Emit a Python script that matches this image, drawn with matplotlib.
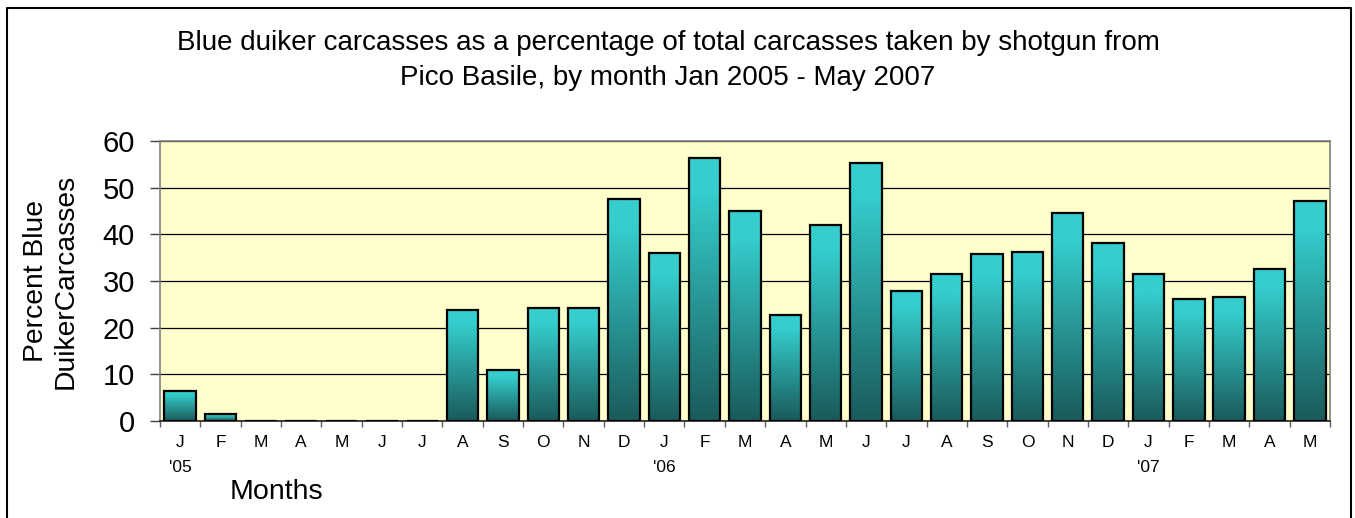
import numpy as np
import matplotlib
matplotlib.use("Agg")
import matplotlib.pyplot as plt
from matplotlib.colors import to_rgb
from matplotlib.lines import Line2D

plt.rcParams['font.family'] = ['Liberation Sans', 'DejaVu Sans']

# data: Jan 2005 - May 2007
months = ['J', 'F', 'M', 'A', 'M', 'J', 'J', 'A', 'S', 'O', 'N', 'D',
          'J', 'F', 'M', 'A', 'M', 'J', 'J', 'A', 'S', 'O', 'N', 'D',
          'J', 'F', 'M', 'A', 'M']
years = {0: "'05", 12: "'06", 24: "'07"}
percent = [6.5, 1.5, 0, 0, 0, 0, 0, 23.8, 10.9, 24.2, 24.2, 47.5,
           36.0, 56.4, 44.9, 22.8, 42.1, 55.3, 27.9, 31.6, 35.7, 36.3, 44.5, 38.1,
           31.6, 26.2, 26.5, 32.6, 47.2]

W, H = 1355, 518
fig = plt.figure(figsize=(W / 100, H / 100), dpi=100)
ax = fig.add_axes([160 / W, 1 - 421 / H, (1330 - 160) / W, (421 - 141) / H])
ax.set_facecolor('#FFFFCC')

x = np.arange(len(percent))
bw = 0.78

# vertical gradient for each bar, light on top, dark at the bottom
top = np.array(to_rgb('#35CDCD'))
bot = np.array(to_rgb('#1A5A5A'))
t = np.linspace(0, 1, 256)
t = np.clip(t * 1.15, 0, 1)
grad = (bot[None, :] * (1 - t[:, None]) + top[None, :] * t[:, None])[:, None, :]
for xi, v in zip(x, percent):
    if v > 0:
        ax.imshow(grad, extent=[xi - bw / 2, xi + bw / 2, 0, v], origin='lower',
                  aspect='auto', zorder=2, interpolation='bilinear')
ax.bar(x, percent, width=bw, fill=False, edgecolor='black', linewidth=1.6, zorder=3)

ax.set_xlim(-0.5, len(percent) - 0.5)
ax.set_ylim(0, 60)
ax.set_yticks(range(0, 61, 10))
ax.yaxis.grid(True, color='black', linewidth=0.9, zorder=1)
ax.set_axisbelow(True)

ax.set_xticks(np.arange(-0.5, len(percent), 1))
ax.set_xticklabels([])
ax.set_xticks(x, minor=True)
ax.set_xticklabels(months, minor=True, fontsize=12.5)
ax.tick_params(axis='x', which='major', length=4.5, width=1, color='#606060', direction='out')
ax.tick_params(axis='x', which='minor', length=0, pad=10)
ax.tick_params(axis='y', length=7, width=1, color='#404040', labelsize=21, pad=11)

for i, lab in years.items():
    ax.text(i, -0.165, lab, transform=ax.get_xaxis_transform(), ha='center',
            va='center', fontsize=12.5)

for s in ['top', 'right', 'left']:
    ax.spines[s].set_color('#808080')
    ax.spines[s].set_linewidth(1.2)
ax.spines['bottom'].set_color('#202020')
ax.spines['bottom'].set_linewidth(1.2)

fig.text(668 / W, 1 - 60.5 / H,
         'Blue duiker carcasses as a percentage of total carcasses taken by shotgun from\n'
         'Pico Basile, by month Jan 2005 - May 2007',
         ha='center', va='center', fontsize=20, linespacing=1.45)
fig.text(51 / W, 1 - 281 / H, 'Percent Blue\nDuikerCarcasses', rotation=90,
         ha='center', va='center', fontsize=20.3, multialignment='center', linespacing=1.2)
fig.text(276 / W, 1 - 492 / H, 'Months', ha='center', va='center', fontsize=20.5)

# outer chart frame (bottom edge runs off the picture)
fx0, fx1, fy1 = 6.5 / W, 1350.5 / W, 1 - 7.5 / H
fig.add_artist(Line2D([fx0, fx0, fx1, fx1], [0, fy1, fy1, 0], color='black',
                      linewidth=1.5, transform=fig.transFigure))

fig.savefig('out.png', dpi=100)
